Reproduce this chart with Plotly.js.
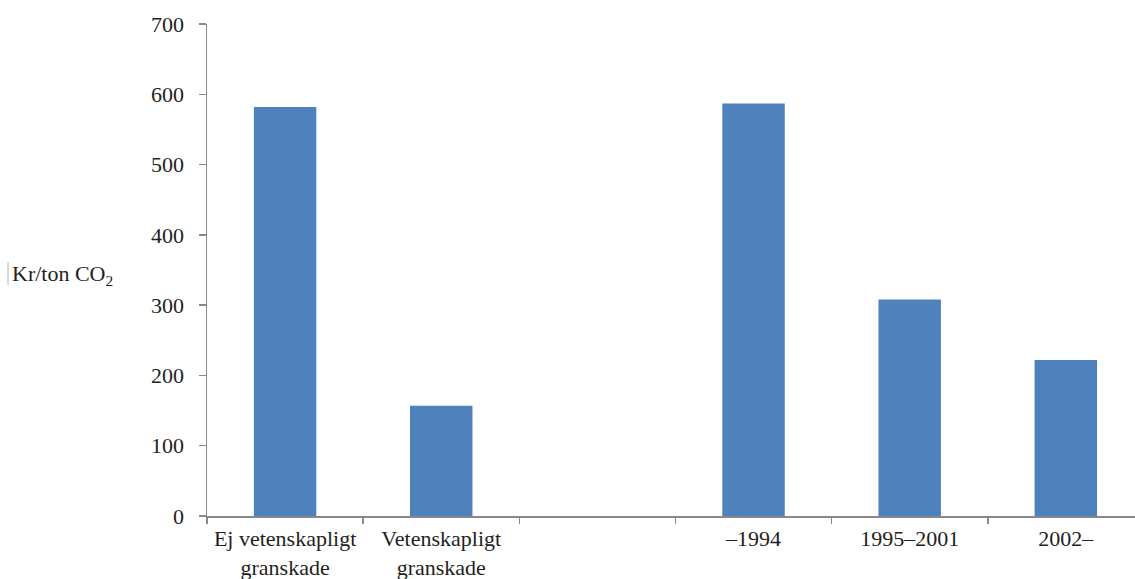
<!DOCTYPE html>
<html>
<head>
<meta charset="utf-8">
<script src="https://cdn.plot.ly/plotly-3.0.1.min.js"></script>
<style>
  html, body { margin: 0; padding: 0; background: #fff; }
  #chart { width: 1135px; height: 579px; }
</style>
</head>
<body>
<div id="chart"></div>
<script>
// Cost per ton of CO2 by study type and by period
const categories = [
  "Ej vetenskapligt<br>granskade",
  "Vetenskapligt<br>granskade",
  " ",
  "–1994",
  "1995–2001",
  "2002–"
];
const values = [582, 157, null, 587, 308, 222];
const yTicks = [0, 100, 200, 300, 400, 500, 600, 700];

const textFont = { family: "Liberation Serif, DejaVu Serif, serif", size: 22, color: "#231f20" };
const axisGrey = "#898989";

const trace = {
  type: "bar",
  x: categories,
  y: values,
  marker: { color: "#4f81bd", line: { width: 0 } },
  hoverinfo: "x+y"
};

const layout = {
  width: 1135,
  height: 579,
  margin: { l: 207, r: 0, t: 24, b: 63 },
  paper_bgcolor: "#ffffff",
  plot_bgcolor: "#ffffff",
  bargap: 0.6,
  showlegend: false,
  font: textFont,
  xaxis: {
    type: "category",
    categoryorder: "array",
    categoryarray: categories,
    range: [-0.5, 5.443],
    showgrid: false,
    zeroline: false,
    showline: true,
    linecolor: axisGrey,
    linewidth: 1.5,
    ticks: "outside",
    tickson: "boundaries",
    ticklen: 6,
    tickwidth: 1.5,
    tickcolor: axisGrey,
    ticklabelstandoff: 2,
    tickfont: textFont
  },
  yaxis: {
    range: [0, 700],
    tickvals: yTicks,
    ticktext: yTicks.map(String),
    showgrid: false,
    zeroline: false,
    showline: true,
    linecolor: axisGrey,
    linewidth: 1.5,
    ticks: "outside",
    ticklen: 7,
    tickwidth: 1.5,
    tickcolor: axisGrey,
    ticklabelstandoff: 10,
    tickfont: textFont
  },
  annotations: [
    {
      xref: "paper", yref: "paper",
      x: -0.2123, y: 0.49,
      xanchor: "left", yanchor: "middle",
      text: "Kr/ton CO<sub>2</sub>",
      showarrow: false,
      font: { family: textFont.family, size: 22, color: "#231f20" }
    }
  ],
  shapes: [
    {
      type: "line", xref: "paper", yref: "paper",
      x0: -0.2144, x1: -0.2144, y0: 0.516, y1: 0.47,
      line: { color: "#b0b0b0", width: 1 }
    }
  ]
};

Plotly.newPlot("chart", [trace], layout, { displayModeBar: false, staticPlot: true });
</script>
</body>
</html>
